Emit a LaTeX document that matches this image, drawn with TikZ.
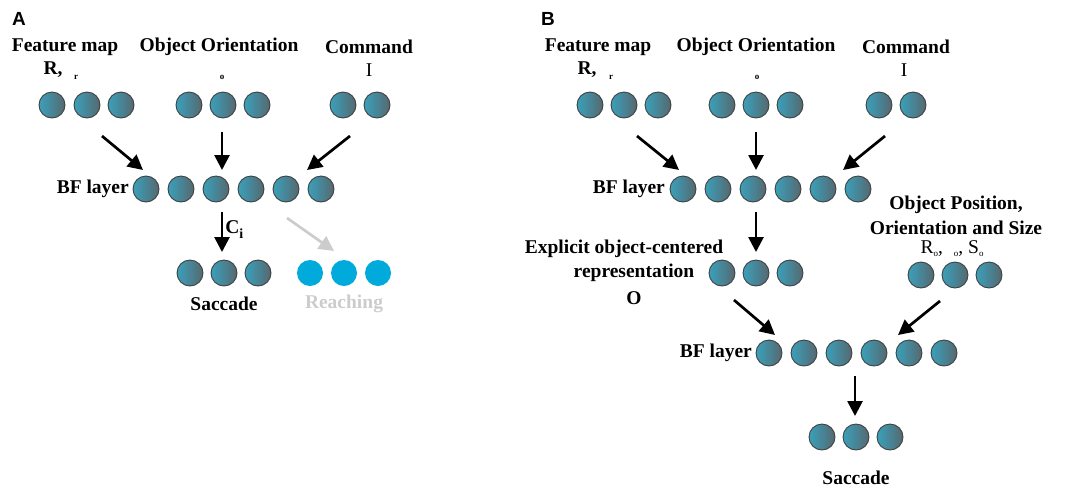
\documentclass[tikz,border=0pt]{standalone}
\usepackage{fontspec}
\setmainfont{Liberation Serif}
\newfontfamily\panelfont{Liberation Sans}
\usetikzlibrary{arrows.meta,positioning}
\definecolor{unitL}{RGB}{58,160,186}
\definecolor{unitR}{RGB}{86,104,112}
\definecolor{reachblue}{RGB}{0,170,218}
\definecolor{fadegrey}{RGB}{204,204,204}
\tikzset{
  unit/.style={circle,draw=black!75,line width=0.9pt,minimum size=26pt,inner sep=0pt,left color=unitL,right color=unitR},
  reachunit/.style={circle,fill=reachblue,minimum size=26pt,inner sep=0pt},
  lbl/.style={font=\bfseries\fontsize{19.5}{22}\selectfont,inner sep=1pt},
  sym/.style={font=\fontsize{19.5}{22}\selectfont,inner sep=1pt},
  tinysub/.style={font=\bfseries\fontsize{9}{9}\selectfont,inner sep=1pt},
  panel/.style={font=\panelfont\bfseries\fontsize{19}{19}\selectfont,inner sep=0pt},
  arr/.style={-{Triangle[length=15pt,width=15pt]},line width=2.7pt},
}

\begin{document}
\begin{tikzpicture}[x=1pt,y=-1pt]
  \useasboundingbox (0,0) rectangle (1070,491);
  % ---- panel A ----
  \node[panel] (labA) at (19,19) {A};
  \node[lbl] (featA) at (65,47) {Feature map};
  \node[lbl] (orientA) at (219,47) {Object Orientation};
  \node[lbl] (cmdA) at (369,47) {Command};
  \node[lbl] (rA) at (53,70) {R,};
  \node[tinysub] (rsubA) at (76,77) {r};
  \node[tinysub] (osubA) at (222,77) {o};
  \node[sym] (iA) at (369,70) {I};
  \foreach \x [count=\i] in {52,87,121} \node[unit] (aF\i) at (\x,105) {};
  \foreach \x [count=\i] in {189,223,257} \node[unit] (aO\i) at (\x,105) {};
  \foreach \x [count=\i] in {343,377} \node[unit] (aC\i) at (\x,105) {};
  \node[lbl,anchor=east] (bfA) at (130,189) {BF layer};
  \foreach \x [count=\i] in {146,181,216,251,286,321} \node[unit] (aB\i) at (\x,189) {};
  \foreach \x [count=\i] in {190,224,258} \node[unit] (aS\i) at (\x,273) {};
  \foreach \x [count=\i] in {310,344,378} \node[reachunit] (aR\i) at (\x,273) {};
  \node[lbl] (sacA) at (224,304) {Saccade};
  \node[lbl,text=fadegrey] (reachA) at (344,304) {Reaching};
  % arrow ends
  \coordinate (aFs) at (102,136); \coordinate (aFe) at (143,170);
  \coordinate (aOs) at (222,132); \coordinate (aOe) at (222,170);
  \coordinate (aCs) at (350,136); \coordinate (aCe) at (307,170);
  \coordinate (aDs) at (222,212); \coordinate (aDe) at (222,252);
  \coordinate (aGs) at (287,218); \coordinate (aGe) at (334,251);
  \draw[arr] (aFs) -- (aFe);
  \draw[arr] (aOs) -- (aOe);
  \draw[arr] (aCs) -- (aCe);
  \draw[arr] (aDs) -- (aDe) node[lbl,pos=0.45,right=1pt] (ciA) {C\raisebox{-5pt}{\fontsize{14}{14}\selectfont i}};
  \draw[arr,fadegrey] (aGs) -- (aGe);
  % ---- panel B ----
  \node[panel] (labB) at (548,19) {B};
  \node[lbl] (featB) at (598,47) {Feature map};
  \node[lbl] (orientB) at (756,47) {Object Orientation};
  \node[lbl] (cmdB) at (906,47) {Command};
  \node[lbl] (rB) at (587,70) {R,};
  \node[tinysub] (rsubB) at (611,77) {r};
  \node[tinysub] (osubB) at (757,77) {o};
  \node[sym] (iB) at (904,70) {I};
  \foreach \x [count=\i] in {590,624,658} \node[unit] (bF\i) at (\x,105) {};
  \foreach \x [count=\i] in {722,756,790} \node[unit] (bO\i) at (\x,105) {};
  \foreach \x [count=\i] in {879,913} \node[unit] (bC\i) at (\x,105) {};
  \node[lbl,anchor=east] (bfB) at (666,189) {BF layer};
  \foreach \x [count=\i] in {683,718,753,788,823,858} \node[unit] (bB\i) at (\x,189) {};
  \node[lbl] (explB) at (624,249) {Explicit object-centered};
  \node[lbl] (reprB) at (634,273) {representation};
  \node[lbl] (objB) at (634,298) {O};
  \foreach \x [count=\i] in {722,756,790} \node[unit] (bM\i) at (\x,273) {};
  \node[lbl] (posB) at (956,205) {Object Position,};
  \node[lbl] (sizeB) at (956,228) {Orientation and Size};
  \node[sym] (roB) at (952,249) {R\raisebox{-3pt}{\fontsize{9}{9}\selectfont o},\hspace{11pt}\raisebox{-3pt}{\fontsize{9}{9}\selectfont o}, S\raisebox{-3pt}{\fontsize{9}{9}\selectfont o}};
  \foreach \x [count=\i] in {921,955,989} \node[unit] (bP\i) at (\x,275) {};
  \node[lbl,anchor=east] (bf2B) at (753,353) {BF layer};
  \foreach \x [count=\i] in {769,804,839,874,909,944} \node[unit] (bL\i) at (\x,353) {};
  \foreach \x [count=\i] in {822,856,890} \node[unit] (bS\i) at (\x,437) {};
  \node[lbl] (sacB) at (856,478) {Saccade};
  % arrow ends
  \coordinate (bFs) at (637,136); \coordinate (bFe) at (679,170);
  \coordinate (bOs) at (756,132); \coordinate (bOe) at (756,170);
  \coordinate (bCs) at (885,136); \coordinate (bCe) at (843,170);
  \coordinate (bDs) at (756,212); \coordinate (bDe) at (756,252);
  \coordinate (bMs) at (734,300); \coordinate (bMe) at (775,335);
  \coordinate (bPs) at (940,301); \coordinate (bPe) at (898,335);
  \coordinate (bLs) at (855,376); \coordinate (bLe) at (855,416);
  \draw[arr] (bFs) -- (bFe);
  \draw[arr] (bOs) -- (bOe);
  \draw[arr] (bCs) -- (bCe);
  \draw[arr] (bDs) -- (bDe);
  \draw[arr] (bMs) -- (bMe);
  \draw[arr] (bPs) -- (bPe);
  \draw[arr] (bLs) -- (bLe);
\end{tikzpicture}
\end{document}
